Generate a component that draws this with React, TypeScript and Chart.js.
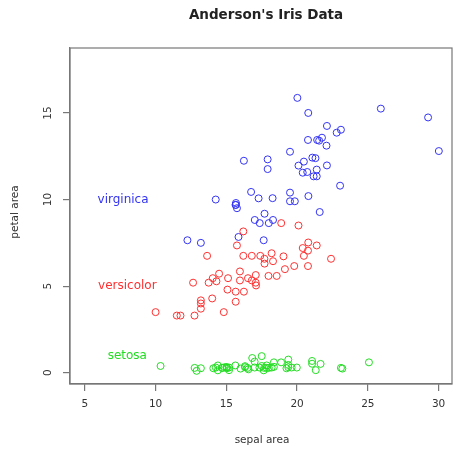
import React, { useEffect, useRef } from "react";
import { Chart, registerables } from "chart.js";

Chart.register(...registerables);

// Anderson's Iris data: sepal area (length x width) and petal area (length x width)
const setosaSepal = [17.85,14.70,15.04,14.26,18.00,21.06,15.64,17.00,12.76,15.19,19.98,16.32,14.40,12.90,23.20,25.08,21.06,17.85,21.66,19.38,18.36,18.87,16.56,16.83,16.32,15.00,17.00,18.20,17.68,15.04,14.88,18.36,21.32,23.10,15.19,16.00,19.25,17.64,13.20,17.34,17.50,10.35,14.08,17.50,19.38,14.40,19.38,14.72,19.61,16.50];
const setosaPetal = [0.28,0.28,0.26,0.30,0.28,0.68,0.42,0.30,0.28,0.15,0.30,0.32,0.14,0.11,0.24,0.60,0.52,0.42,0.51,0.45,0.34,0.60,0.20,0.85,0.38,0.32,0.64,0.30,0.28,0.32,0.32,0.60,0.15,0.28,0.30,0.24,0.26,0.14,0.26,0.30,0.39,0.39,0.26,0.96,0.76,0.42,0.32,0.28,0.30,0.28];

const versicolorSepal = [22.40,20.48,21.39,12.65,18.20,15.96,20.79,11.76,19.14,14.04,10.00,17.70,13.20,17.69,16.24,20.77,16.80,15.66,13.64,14.00,18.88,17.08,15.75,17.08,18.56,19.80,19.04,20.10,17.40,14.82,13.20,13.20,15.66,16.20,16.20,20.40,20.77,14.49,16.80,13.75,14.30,18.30,15.08,11.50,15.12,17.10,16.53,17.98,12.75,15.96];
const versicolorPetal = [6.58,6.75,7.35,5.20,6.90,5.85,7.52,3.30,5.98,5.46,3.50,6.30,4.00,6.58,4.68,6.16,6.75,4.10,6.75,4.29,8.64,5.20,7.35,5.64,5.59,6.16,6.72,8.50,6.75,3.50,4.18,3.70,4.68,8.16,6.75,7.20,7.05,5.72,5.33,5.20,5.28,6.44,4.80,3.30,5.46,5.04,5.46,5.59,3.30,5.33];

const virginicaSepal = [20.79,15.66,21.30,18.27,19.50,22.80,12.25,21.17,16.75,25.92,20.80,17.28,20.40,14.25,16.24,20.48,19.50,29.26,20.02,13.20,22.08,15.68,21.56,17.01,22.11,23.04,17.36,18.30,17.92,21.60,20.72,30.02,17.92,17.64,15.86,23.10,21.42,19.84,18.00,21.39,20.77,21.39,15.66,21.76,22.11,20.10,15.75,19.50,21.08,17.70];
const virginicaPetal = [15.00,9.69,12.39,10.08,12.76,13.86,7.65,11.34,10.44,15.25,10.20,10.07,11.55,10.00,12.24,12.19,9.90,14.74,15.87,7.50,13.11,9.80,13.40,8.82,11.97,10.80,8.64,8.82,11.76,9.28,11.59,12.80,12.32,7.65,7.84,14.03,13.44,9.90,8.64,11.34,13.44,11.73,9.69,13.57,14.25,11.96,9.50,10.40,12.42,9.18];

const speciesNames = ["setosa", "versicolor", "virginica"];
const speciesColors = ["#22dd22", "#ff3030", "#3333f5"];
const labelX = [8.0, 8.0, 7.7];
const labelY = [1, 5, 10];

const xTicks = [5, 10, 15, 20, 25, 30];
const yTicks = [0, 5, 10, 15];

const titleText = "Anderson's Iris Data";
const xTitle = "sepal area";
const yTitle = "petal area";

const toPoints = (xs: number[], ys: number[]) => xs.map((x, i) => ({ x, y: ys[i] }));

const AXIS_COLOR = "#777777";
const FONT = "'DejaVu Sans', Arial, sans-serif";

const textPlugin = {
  id: "rtext",
  afterDraw(chart: any) {
    const { ctx, chartArea } = chart;
    const xs = chart.scales.x;
    const ys = chart.scales.y;
    ctx.save();
    // box
    ctx.strokeStyle = AXIS_COLOR;
    ctx.lineWidth = 1.2;
    ctx.strokeRect(chartArea.left, chartArea.top, chartArea.right - chartArea.left, chartArea.bottom - chartArea.top);

    ctx.fillStyle = "#222";
    ctx.textAlign = "center";
    ctx.textBaseline = "middle";
    // title
    ctx.font = `bold 13.5px ${FONT}`;
    ctx.fillText(titleText, 266, 15);

    // x tick labels
    ctx.font = `10.5px ${FONT}`;
    ctx.fillStyle = "#333";
    xs.ticks.forEach((t: any) => {
      ctx.fillText(String(t.value), xs.getPixelForValue(t.value), 404);
    });
    // y tick labels (rotated)
    ys.ticks.forEach((t: any) => {
      ctx.save();
      ctx.translate(48, ys.getPixelForValue(t.value));
      ctx.rotate(-Math.PI / 2);
      ctx.fillText(String(t.value), 0, 0);
      ctx.restore();
    });
    // axis titles
    ctx.font = `10.5px ${FONT}`;
    ctx.fillText(xTitle, 262, 440);
    ctx.save();
    ctx.translate(15, 212);
    ctx.rotate(-Math.PI / 2);
    ctx.fillText(yTitle, 0, 0);
    ctx.restore();

    // species labels
    ctx.font = `12px ${FONT}`;
    speciesNames.forEach((name, i) => {
      ctx.fillStyle = speciesColors[i];
      ctx.fillText(name, xs.getPixelForValue(labelX[i]), ys.getPixelForValue(labelY[i]));
    });
    ctx.restore();
  },
};

export default function App() {
  const ref = useRef<HTMLCanvasElement | null>(null);
  useEffect(() => {
    document.body.style.margin = "0";
    const canvas = ref.current!;
    const mk = (label: string, xs: number[], ys: number[], color: string) => ({
      label,
      data: toPoints(xs, ys),
      borderColor: color,
      backgroundColor: "rgba(0,0,0,0)",
      pointRadius: 3.5,
      pointBorderWidth: 1,
      pointStyle: "circle" as const,
      showLine: false,
    });
    const axisCommon = {
      type: "linear" as const,
      grid: {
        display: true,
        drawOnChartArea: false,
        drawTicks: true,
        tickLength: 7,
        color: AXIS_COLOR,
        lineWidth: 1.2,
      },
      border: { display: true, color: AXIS_COLOR, width: 1.2 },
      title: { display: false },
    };
    const chart = new Chart(canvas, {
      type: "scatter",
      data: {
        datasets: [
          mk(speciesNames[0], setosaSepal, setosaPetal, speciesColors[0]),
          mk(speciesNames[1], versicolorSepal, versicolorPetal, speciesColors[1]),
          mk(speciesNames[2], virginicaSepal, virginicaPetal, speciesColors[2]),
        ],
      },
      options: {
        animation: false,
        responsive: false,
        devicePixelRatio: 1,
        layout: { padding: { left: 63, right: 3, top: 48, bottom: 61 } },
        plugins: { legend: { display: false }, tooltip: { enabled: false }, title: { display: false } },
        scales: {
          x: {
            ...axisCommon,
            position: "bottom",
            min: 3.95,
            max: 30.95,
            afterBuildTicks: (s: any) => { s.ticks = xTicks.map((v) => ({ value: v })); },
            ticks: { display: false, includeBounds: false },
          },
          y: {
            ...axisCommon,
            position: "left",
            min: -0.65,
            max: 18.75,
            afterBuildTicks: (s: any) => { s.ticks = yTicks.map((v) => ({ value: v })); },
            ticks: { display: false, includeBounds: false },
          },
        },
      },
      plugins: [textPlugin],
    } as any);
    return () => chart.destroy();
  }, []);
  return (
    <div style={{ width: 457, height: 452, background: "#fff" }}>
      <canvas ref={ref} width={457} height={452} style={{ display: "block", width: 457, height: 452 }} />
    </div>
  );
}
